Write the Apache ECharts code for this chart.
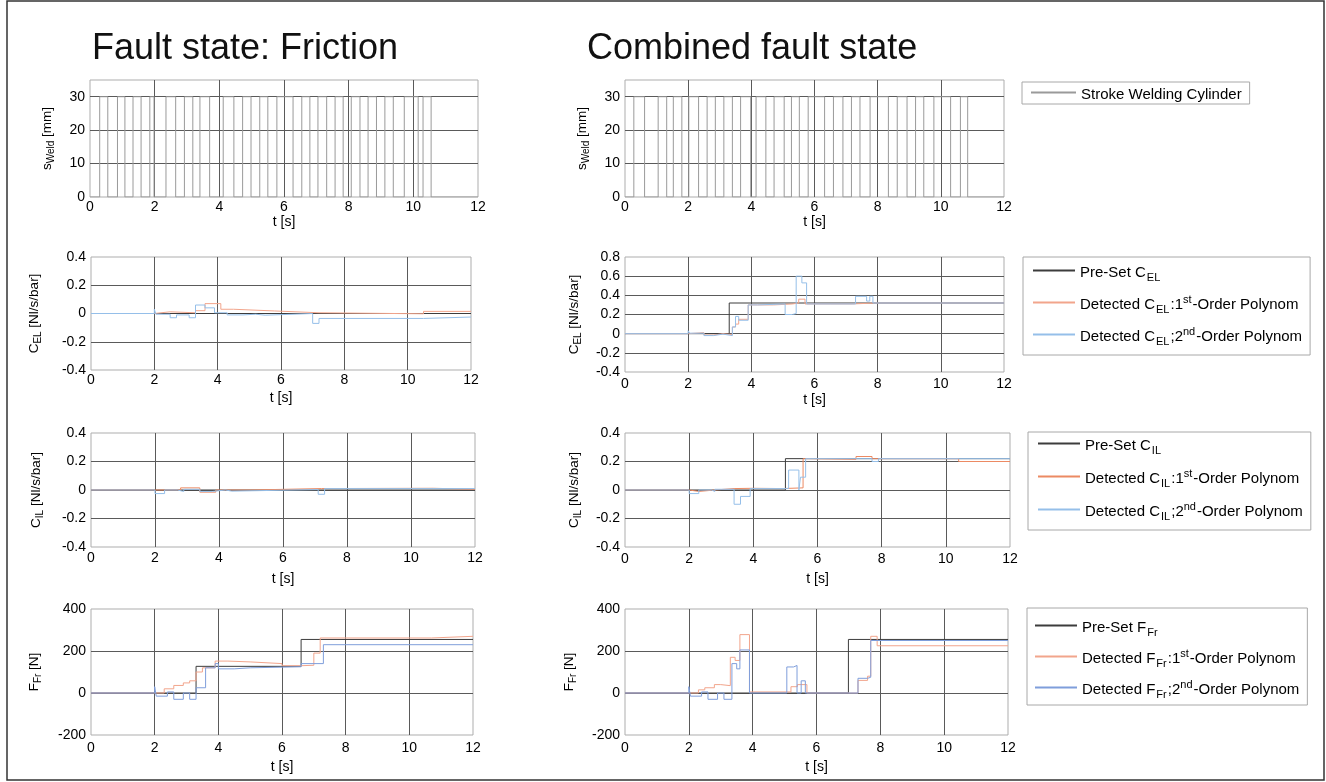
<!DOCTYPE html>
<html>
<head>
<meta charset="utf-8">
<script src="https://cdn.jsdelivr.net/npm/echarts@6/dist/echarts.min.js"></script>
<style>
html,body{margin:0;padding:0;background:#fff;}
#c{width:1326px;height:782px;}
</style>
</head>
<body>
<div id="c"></div>
<script>
// ---------------- DATA ----------------
const xTicks = [0, 2, 4, 6, 8, 10, 12];

// Stroke of welding cylinder (transition times, level after transition)
const sWeldL_t = [0,0.30,0.55,0.85,1.08,1.33,1.58,1.85,1.98,2.35,2.65,2.92,3.18,3.40,3.70,4.12,4.45,4.72,4.98,5.25,5.50,5.78,6.28,6.55,6.80,7.05,7.32,7.58,7.83,8.08,8.35,8.60,8.86,9.12,9.38,9.72,10.15,10.30,10.55,12];
const sWeldL_v = [0,30,0,30,0,30,0,30,0,30,0,30,0,30,0,30,0,30,0,30,0,30,0,30,0,30,0,30,0,30,0,30,0,30,0,30,0,30,0,0];
const sWeldR_t = [0,0.28,0.62,1.05,1.32,1.53,1.80,2.02,2.33,2.60,2.86,3.13,3.40,3.66,3.98,4.15,4.46,4.72,5.04,5.27,5.52,5.80,6.32,6.60,6.90,7.17,7.44,7.76,8.34,8.62,8.93,9.20,9.46,9.78,10.31,10.62,10.85,12];
const sWeldR_v = [0,30,0,30,0,30,0,30,0,30,0,30,0,30,0,30,0,30,0,30,0,30,0,30,0,30,0,30,0,30,0,30,0,30,0,30,0,0];

// C_EL, friction fault (left)
const preCEL_L_t = [0, 12];
const preCEL_L_v = [0, 0];
const d1CEL_L_t = [0, 2.0, 2.5, 3.3, 3.6, 4.1, 4.5, 5.8, 7.2, 10.5, 12];
const d1CEL_L_v = [0, 0.012, 0.005, 0.02, 0.07, 0.03, 0.018, 0.005, -0.002, 0.015, 0.015];
const d2CEL_L_t = [0, 2.0, 2.05, 2.5, 2.7, 3.1, 3.3, 3.6, 3.9, 4.3, 4.8, 5.2, 5.5, 7.0, 7.2, 10.5, 12];
const d2CEL_L_v = [0, 0.03, -0.005, -0.03, -0.01, -0.03, 0.06, 0.04, 0.005, -0.01, -0.005, -0.012, 0, -0.07, -0.035, -0.025, -0.025];

// C_EL, combined fault (right)
const preCEL_R_t = [0, 3.3, 12];
const preCEL_R_v = [0, 0.32, 0.32];
const d1CEL_R_t = [0, 2.0, 2.5, 2.8, 3.1, 3.4, 3.5, 3.6, 3.9, 4.2, 4.7, 5.3, 5.5, 5.7, 6.5, 7.2, 7.9, 12];
const d1CEL_R_v = [0, 0.01, -0.015, 0, -0.01, 0.07, 0.1, 0.15, 0.3, 0.3, 0.31, 0.32, 0.36, 0.31, 0.31, 0.32, 0.32, 0.32];
const d2CEL_R_t = [0, 2.0, 2.05, 2.5, 2.8, 3.1, 3.4, 3.5, 3.6, 3.9, 4.2, 5.07, 5.3, 5.42, 5.6, 5.75, 7.3, 7.65, 7.75, 7.85, 12];
const d2CEL_R_v = [0, 0.03, 0.005, -0.02, -0.005, -0.02, 0.07, 0.18, 0.14, 0.3, 0.31, 0.2, 0.21, 0.6, 0.53, 0.31, 0.39, 0.34, 0.39, 0.32, 0.32];

// C_IL, friction fault (left)
const preCIL_L_t = [0, 12];
const preCIL_L_v = [0, 0];
const d1CIL_L_t = [0, 2.0, 2.3, 2.8, 3.4, 3.9, 4.4, 5.0, 7.2, 10.7, 12];
const d1CIL_L_v = [0, 0, 0, 0.015, -0.015, 0, 0, 0.01, 0.012, 0.005, 0.005];
const d2CIL_L_t = [0, 2.0, 2.3, 2.7, 2.9, 3.4, 3.8, 4.2, 4.4, 7.1, 7.3, 12];
const d2CIL_L_v = [0, -0.025, 0, -0.01, 0.005, -0.01, 0, -0.008, 0.003, -0.03, 0.01, 0.01];

// C_IL, combined fault (right)
const preCIL_R_t = [0, 5.0, 12];
const preCIL_R_v = [0, 0.22, 0.22];
const d1CIL_R_t = [0, 2.0, 2.3, 2.8, 3.4, 4.0, 4.9, 5.55, 5.7, 7.2, 7.7, 10.4, 12];
const d1CIL_R_v = [0, -0.01, 0, 0.01, 0.012, 0.01, 0.015, 0.22, 0.215, 0.235, 0.22, 0.2, 0.2];
const d2CIL_R_t = [0, 2.0, 2.3, 2.7, 2.8, 3.4, 3.6, 3.9, 5.1, 5.42, 5.47, 5.63, 7.2, 7.7, 7.9, 12];
const d2CIL_R_v = [0, -0.025, 0, -0.01, 0.005, -0.1, -0.045, 0.01, 0.14, 0, 0.09, 0.22, 0.22, 0.2, 0.22, 0.22];

// F_Fr, friction fault (left)
const preFFr_L_t = [0, 3.3, 6.6, 12];
const preFFr_L_v = [0, 127, 255, 255];
const d1FFr_L_t = [0, 2.0, 2.3, 2.6, 2.9, 3.1, 3.3, 3.5, 3.9, 4.3, 5.0, 6.0, 6.6, 7.0, 7.2, 10.7, 12];
const d1FFr_L_v = [0, 0, 20, 36, 48, 58, 100, 120, 152, 148, 140, 130, 132, 190, 262, 270, 270];
const d2FFr_L_t = [0, 2.0, 2.05, 2.4, 2.6, 2.9, 3.1, 3.3, 3.6, 3.9, 4.0, 4.5, 5.0, 6.6, 7.3, 12];
const d2FFr_L_v = [0, 30, -15, 5, -30, 0, -30, 25, 120, 140, 115, 120, 125, 140, 230, 230];

// F_Fr, combined fault (right)
const preFFr_R_t = [0, 7.0, 12];
const preFFr_R_v = [0, 255, 255];
const d1FFr_R_t = [0, 2.0, 2.3, 2.5, 2.8, 3.0, 3.3, 3.45, 3.6, 3.9, 5.2, 5.4, 5.7, 7.3, 7.6, 7.7, 7.9, 12];
const d1FFr_R_v = [0, 0, 15, 25, 40, 35, 170, 155, 278, 5, 30, 40, 0, 60, 80, 270, 225, 225];
const d2FFr_R_t = [0, 2.0, 2.05, 2.4, 2.6, 2.9, 3.1, 3.35, 3.5, 3.6, 3.9, 5.07, 5.28, 5.39, 5.52, 5.65, 7.3, 7.6, 7.7, 12];
const d2FFr_R_v = [0, 30, -15, 5, -30, 0, -30, 140, 115, 205, 0, 124, 131, 0, 58, 0, 70, 75, 250, 250];

// ---------------- STYLE / LAYOUT ----------------
const C_PRE = '#3c3c3c', C_D1 = '#f2a58c', C_D2 = '#95bfe9', C_W = '#9a9a9a';
const C_D1_IL = '#ec8a63', C_D2_FR = '#7f9edb';
const TXT = '#000';

const grids = [
  {left: 90,  top: 80,  width: 388, height: 117},  // L1
  {left: 625, top: 80,  width: 379, height: 117},  // R1
  {left: 91,  top: 257, width: 380, height: 113},  // L2
  {left: 625, top: 257, width: 379, height: 115},  // R2
  {left: 91,  top: 433, width: 384, height: 114},  // L3
  {left: 625, top: 433, width: 385, height: 114},  // R3
  {left: 91,  top: 609, width: 382, height: 126},  // L4
  {left: 625, top: 609, width: 383, height: 126}   // R4
];
const yCfg = [
  {min: 0, max: 35, interval: 10, name: '{n|s}{b|Weld}{n| [mm]}', gap: 37},
  {min: 0, max: 35, interval: 10, name: '{n|s}{b|Weld}{n| [mm]}', gap: 37},
  {min: -0.4, max: 0.4, interval: 0.2, name: '{n|C}{b|EL}{n| [Nl/s/bar]}', gap: 51},
  {min: -0.4, max: 0.8, interval: 0.2, name: '{n|C}{b|EL}{n| [Nl/s/bar]}', gap: 45},
  {min: -0.4, max: 0.4, interval: 0.2, name: '{n|C}{b|IL}{n| [Nl/s/bar]}', gap: 49},
  {min: -0.4, max: 0.4, interval: 0.2, name: '{n|C}{b|IL}{n| [Nl/s/bar]}', gap: 45},
  {min: -200, max: 400, interval: 200, name: '{n|F}{b|Fr}{n| [N]}', gap: 51},
  {min: -200, max: 400, interval: 200, name: '{n|F}{b|Fr}{n| [N]}', gap: 50}
];
const xNameGap = [17, 17, 21, 21, 25, 25, 25, 25];
const xLabMargin = [3, 3, 3, 5, 4, 5, 6, 6];

const nameRich = {
  n: {fontSize: 13.5, color: TXT, fontFamily: 'Liberation Sans', lineHeight: 16, padding: [3, 0, 0, 0], verticalAlign: 'top'},
  b: {fontSize: 10, color: TXT, fontFamily: 'Liberation Sans', lineHeight: 12, padding: [9, 0, 0, 0], verticalAlign: 'top'}
};
const legRich = {
  n: {fontSize: 15, color: TXT, fontFamily: 'Liberation Sans', lineHeight: 17, padding: [3, 0, 0, 0], verticalAlign: 'top'},
  b: {fontSize: 11, color: TXT, fontFamily: 'Liberation Sans', lineHeight: 12, padding: [10, 1, 0, 1], verticalAlign: 'top'},
  p: {fontSize: 11, color: TXT, fontFamily: 'Liberation Sans', lineHeight: 12, padding: [0, 1, 0, 0], verticalAlign: 'top'}
};
const legLabels = {
  sWeld: '{n|Stroke Welding Cylinder}',
  PreCEL: '{n|Pre-Set C}{b|EL}',
  D1CEL: '{n|Detected C}{b|EL}{n|:1}{p|st}{n|-Order Polynom}',
  D2CEL: '{n|Detected C}{b|EL}{n|;2}{p|nd}{n|-Order Polynom}',
  PreCIL: '{n|Pre-Set C}{b|IL}',
  D1CIL: '{n|Detected C}{b|IL}{n|:1}{p|st}{n|-Order Polynom}',
  D2CIL: '{n|Detected C}{b|IL}{n|;2}{p|nd}{n|-Order Polynom}',
  PreFFr: '{n|Pre-Set F}{b|Fr}',
  D1FFr: '{n|Detected F}{b|Fr}{n|:1}{p|st}{n|-Order Polynom}',
  D2FFr: '{n|Detected F}{b|Fr}{n|;2}{p|nd}{n|-Order Polynom}'
};

const zip = (t, v) => t.map((x, i) => [x, v[i]]);

const xAxes = grids.map((g, i) => ({
  gridIndex: i, type: 'value', min: 0, max: 12, interval: 2,
  axisLine: {show: false}, axisTick: {show: false},
  splitLine: {show: true, showMinLine: false, showMaxLine: false, lineStyle: {color: '#5a5a5a', width: 1}},
  axisLabel: {fontSize: 14, color: TXT, fontFamily: 'Liberation Sans', margin: xLabMargin[i]},
  name: 't [s]', nameLocation: 'middle', nameGap: xNameGap[i],
  nameTextStyle: {fontSize: 14, color: TXT, fontFamily: 'Liberation Sans'}
}));
const yAxes = yCfg.map((c, i) => ({
  gridIndex: i, type: 'value', min: c.min, max: c.max, interval: c.interval,
  axisLine: {show: false}, axisTick: {show: false},
  splitLine: {show: true, showMinLine: false, showMaxLine: false, lineStyle: {color: '#5a5a5a', width: 1}},
  axisLabel: {fontSize: 14, color: TXT, fontFamily: 'Liberation Sans', margin: 5, showMaxLabel: i < 2 ? false : true},
  name: c.name, nameLocation: 'middle', nameRotate: 90, nameGap: c.gap,
  nameTextStyle: {rich: nameRich}
}));

function ser(name, idx, t, v, color) {
  return {
    name: name, type: 'line', step: 'end', xAxisIndex: idx, yAxisIndex: idx,
    data: zip(t, v), symbol: 'none', showSymbol: false, color: color,
    lineStyle: {color: color, width: 1}, emphasis: {disabled: true}, silent: true
  };
}
const series = [
  ser('sWeld', 0, sWeldL_t, sWeldL_v, C_W),
  ser('sWeld', 1, sWeldR_t, sWeldR_v, C_W),
  ser('PreCEL', 2, preCEL_L_t, preCEL_L_v, C_PRE),
  ser('D1CEL', 2, d1CEL_L_t, d1CEL_L_v, C_D1),
  ser('D2CEL', 2, d2CEL_L_t, d2CEL_L_v, C_D2),
  ser('PreCEL', 3, preCEL_R_t, preCEL_R_v, C_PRE),
  ser('D1CEL', 3, d1CEL_R_t, d1CEL_R_v, C_D1),
  ser('D2CEL', 3, d2CEL_R_t, d2CEL_R_v, C_D2),
  ser('PreCIL', 4, preCIL_L_t, preCIL_L_v, C_PRE),
  ser('D1CIL', 4, d1CIL_L_t, d1CIL_L_v, C_D1_IL),
  ser('D2CIL', 4, d2CIL_L_t, d2CIL_L_v, C_D2),
  ser('PreCIL', 5, preCIL_R_t, preCIL_R_v, C_PRE),
  ser('D1CIL', 5, d1CIL_R_t, d1CIL_R_v, C_D1_IL),
  ser('D2CIL', 5, d2CIL_R_t, d2CIL_R_v, C_D2),
  ser('PreFFr', 6, preFFr_L_t, preFFr_L_v, C_PRE),
  ser('D1FFr', 6, d1FFr_L_t, d1FFr_L_v, C_D1),
  ser('D2FFr', 6, d2FFr_L_t, d2FFr_L_v, C_D2_FR),
  ser('PreFFr', 7, preFFr_R_t, preFFr_R_v, C_PRE),
  ser('D1FFr', 7, d1FFr_R_t, d1FFr_R_v, C_D1),
  ser('D2FFr', 7, d2FFr_R_t, d2FFr_R_v, C_D2_FR)
];

function leg(data, left, top, padding, gap, iw) {
  return {
    data: data, left: left, top: top, orient: 'vertical', padding: padding, itemGap: gap,
    itemWidth: iw, itemHeight: 2, icon: 'rect', selectedMode: false,
    borderColor: '#a8a8a8', borderWidth: 1, backgroundColor: '#fff',
    formatter: n => legLabels[n],
    textStyle: {rich: legRich, fontSize: 15, color: TXT}
  };
}

const option = {
  animation: false,
  backgroundColor: '#fff',
  title: [
    {text: 'Fault state: Friction', left: 92, top: 31, padding: 0,
     textStyle: {fontSize: 36, fontWeight: 'normal', color: '#111', fontFamily: 'Liberation Sans'}},
    {text: 'Combined fault state', left: 587, top: 31, padding: 0,
     textStyle: {fontSize: 36, fontWeight: 'normal', color: '#111', fontFamily: 'Liberation Sans'}}
  ],
  grid: grids.map(g => Object.assign({show: true, borderColor: '#adadad', borderWidth: 1, backgroundColor: 'transparent', containLabel: false}, g)),
  xAxis: xAxes,
  yAxis: yAxes,
  legend: [
    leg(['sWeld'], 1022, 82, [2, 8, 2, 9], 10, 45),
    leg(['PreCEL', 'D1CEL', 'D2CEL'], 1023, 257, [5, 8, 8, 10], 11, 42),
    leg(['PreCIL', 'D1CIL', 'D2CIL'], 1028, 432, [3, 8, 8, 10], 12, 42),
    leg(['PreFFr', 'D1FFr', 'D2FFr'], 1027, 608, [9, 8, 5, 8], 10, 42)
  ],
  graphic: [
    {type: 'rect', shape: {x: 7, y: 1, width: 1317, height: 779}, style: {fill: 'none', stroke: '#333', lineWidth: 1.5}, silent: true, z: 100}
  ],
  series: series
};

const chart = echarts.init(document.getElementById('c'), null, {renderer: 'canvas'});
chart.setOption(option);
</script>
</body>
</html>
